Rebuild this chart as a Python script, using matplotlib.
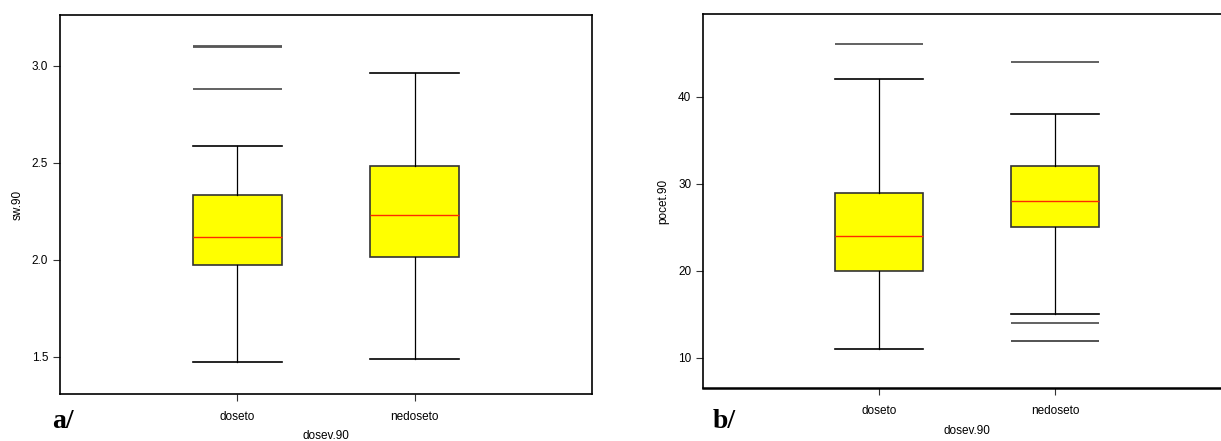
import matplotlib
matplotlib.use("Agg")
from matplotlib import pyplot as plt

# categories and box statistics
groups = ["doseto", "nedoseto"]

# panel a: sw.90
sw_whislo = [1.474, 1.487]
sw_q1 = [1.974, 2.017]
sw_med = [2.118, 2.231]
sw_q3 = [2.333, 2.482]
sw_whishi = [2.585, 2.964]
sw_outliers = [[3.095, 3.10, 2.88], []]

# panel b: pocet.90
pc_whislo = [11, 15]
pc_q1 = [20, 25]
pc_med = [24, 28]
pc_q3 = [29, 32]
pc_whishi = [42, 38]
pc_outliers = [[46], [44, 14, 12, 12]]

plt.rcParams['font.family'] = ['Liberation Sans', 'DejaVu Sans']

fig = plt.figure(figsize=(12.21, 4.41), dpi=100)
ax_a = fig.add_axes([0.0491, 0.1066, 0.4357, 0.8594])
ax_b = fig.add_axes([0.5758, 0.1202, 0.4324, 0.8480])


def draw_panel(ax, lo, q1, med, q3, hi, outs, ylabel, ylim, yticks, ticklabels, xpad):
    stats = []
    for i, g in enumerate(groups):
        stats.append(dict(label=g, whislo=lo[i], q1=q1[i], med=med[i],
                          q3=q3[i], whishi=hi[i], fliers=[]))
    pos = [1, 2]
    ax.bxp(stats, positions=pos, widths=0.5, capwidths=0.5, patch_artist=True,
           showfliers=False,
           boxprops=dict(facecolor='#ffff00', edgecolor='#333333', linewidth=1.2),
           medianprops=dict(color='#ff2a00', linewidth=1.0),
           whiskerprops=dict(color='black', linewidth=0.9),
           capprops=dict(color='black', linewidth=1.2))
    # outliers drawn as short horizontal lines, S-Plus style
    for p, vals in zip(pos, outs):
        for v in vals:
            ax.hlines(v, p - 0.25, p + 0.25, color='#555555', linewidth=1.3)
    ax.set_xlim(0, 3)
    ax.set_ylim(*ylim)
    ax.set_yticks(yticks)
    ax.set_yticklabels(ticklabels)
    ax.set_xticks(pos)
    ax.set_xticklabels(groups)
    ax.tick_params(labelsize=8.5, length=5, width=0.8, color='#333333')
    ax.tick_params(axis='x', pad=7)
    ax.set_ylabel(ylabel, fontsize=8.5, labelpad=6)
    ax.set_xlabel("dosev.90", fontsize=8.5, labelpad=xpad)
    for s in ax.spines.values():
        s.set_linewidth(1.2)


draw_panel(ax_a, sw_whislo, sw_q1, sw_med, sw_q3, sw_whishi, sw_outliers,
           "sw.90", (1.309, 3.261), [1.5, 2.0, 2.5, 3.0], ["1.5", "2.0", "2.5", "3.0"], 5)
draw_panel(ax_b, pc_whislo, pc_q1, pc_med, pc_q3, pc_whishi, pc_outliers,
           "pocet.90", (6.55, 49.5), [10, 20, 30, 40], ["10", "20", "30", "40"], 6)
ax_b.spines['bottom'].set_linewidth(1.8)

fig.text(52 / 1221, 1 - 422 / 441, "a/", fontsize=20, fontweight='bold',
         family='Liberation Serif', va='center')
fig.text(713 / 1221, 1 - 422 / 441, "b/", fontsize=20, fontweight='bold',
         family='Liberation Serif', va='center')

fig.savefig("out.png", dpi=100)
